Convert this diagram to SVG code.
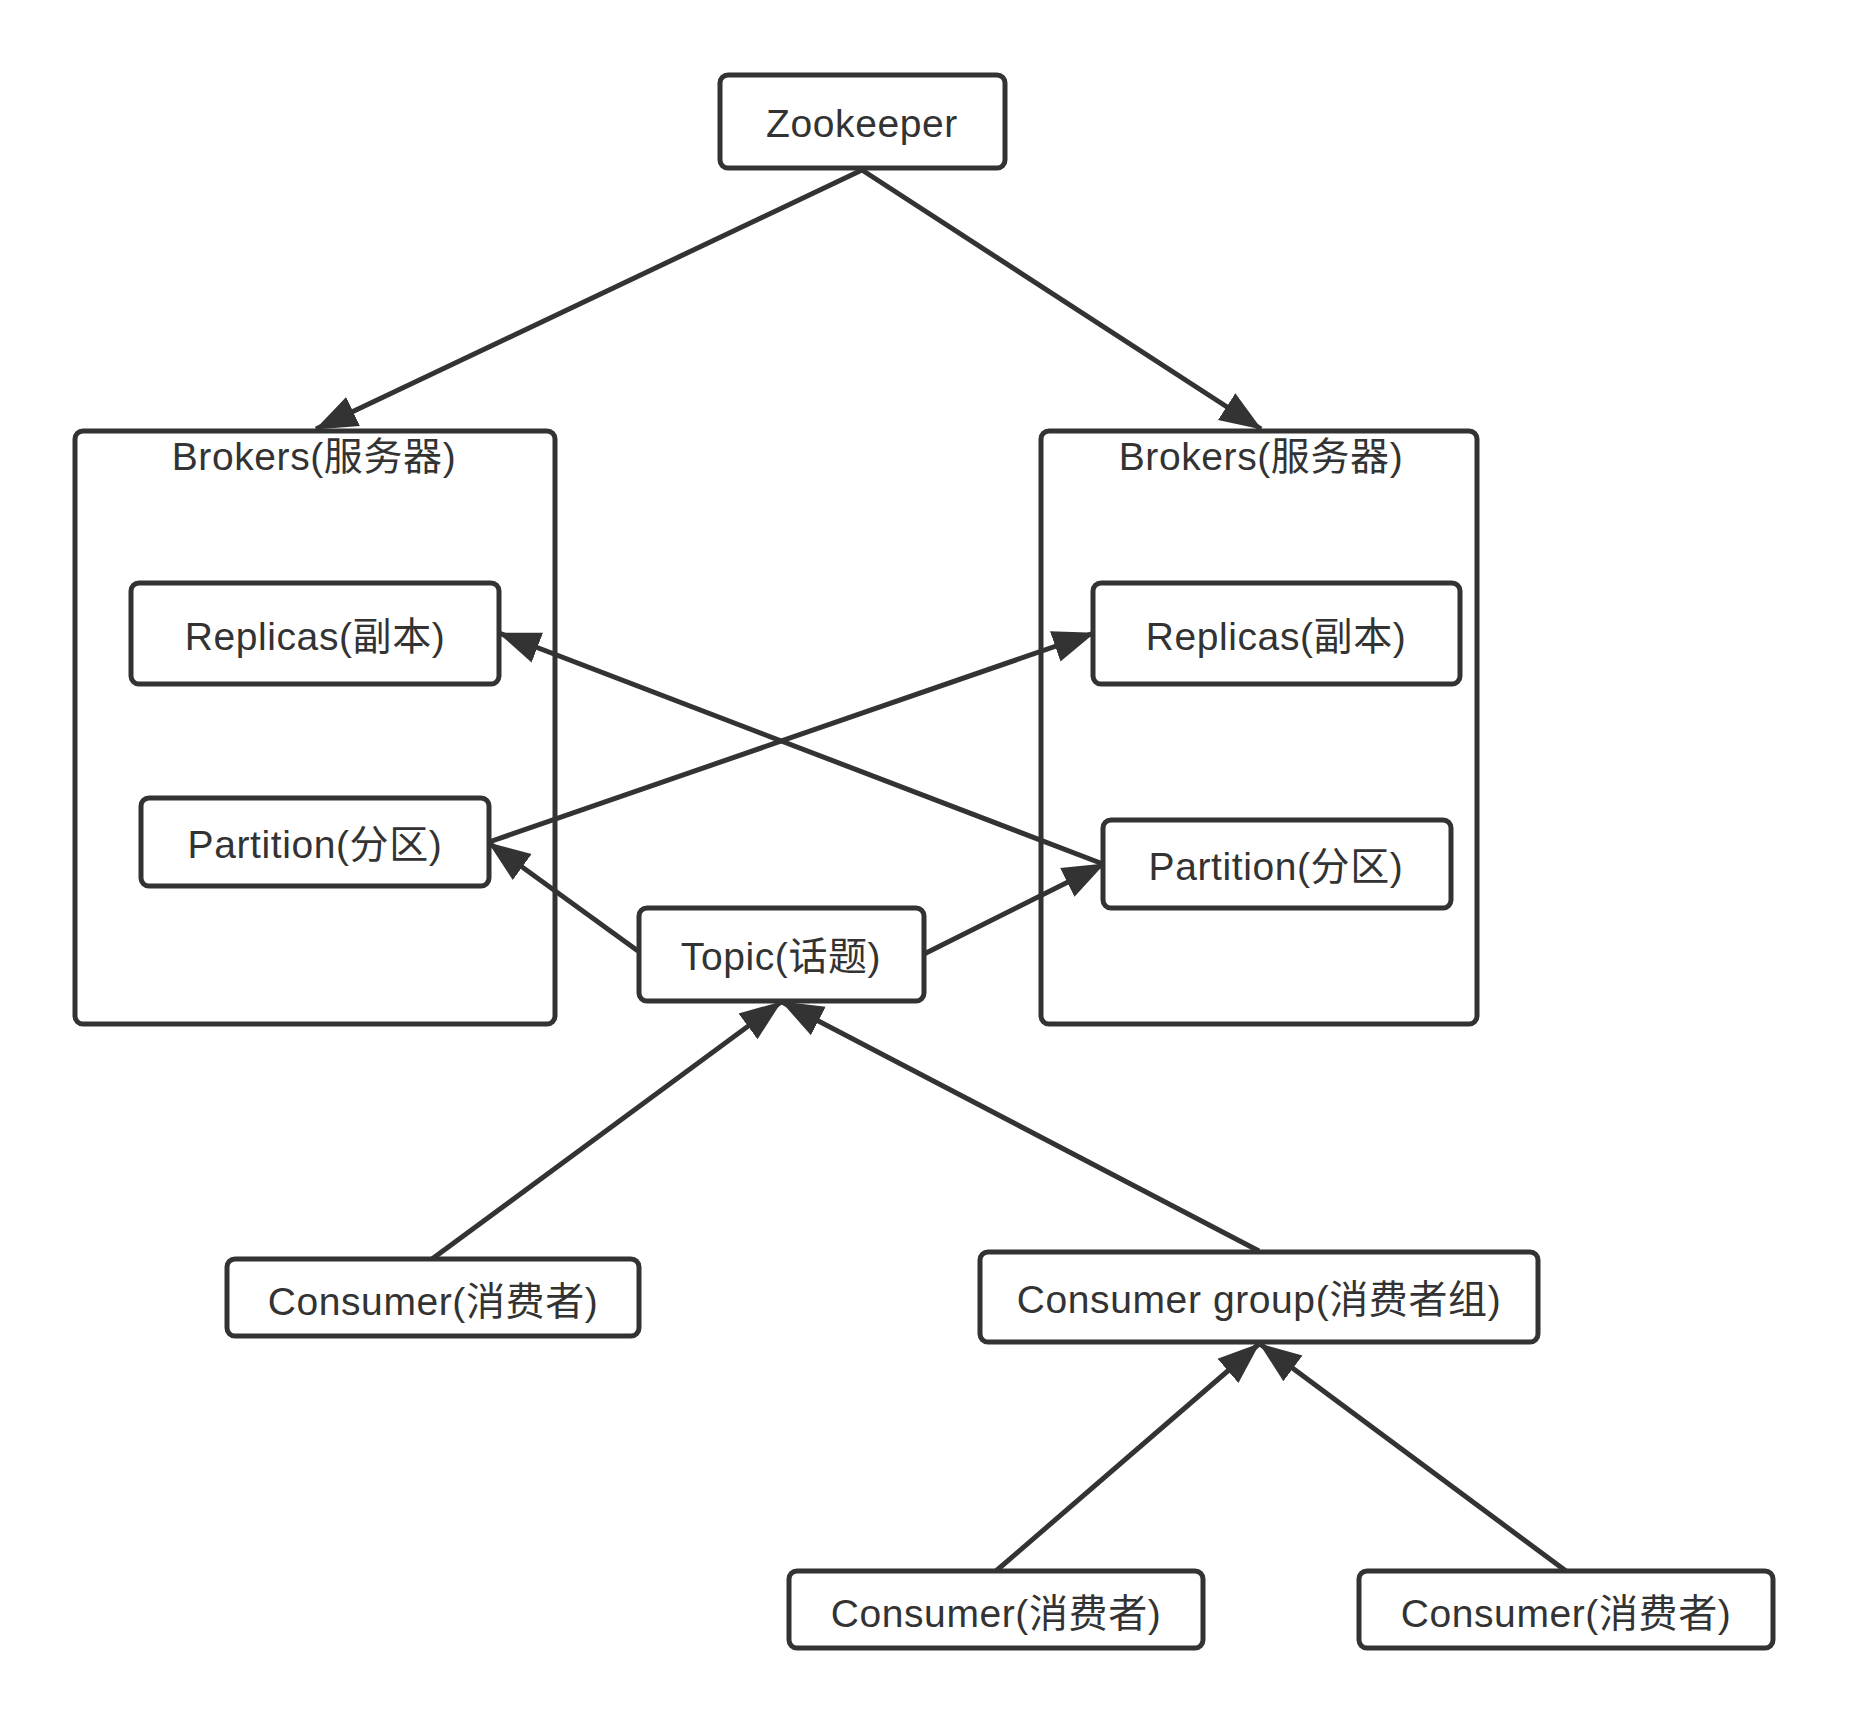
<svg xmlns="http://www.w3.org/2000/svg" width="1849" height="1724" viewBox="0 0 1849 1724">
<style>
.box{fill:#ffffff;stroke:#333333;stroke-width:5}
.lbl{font-family:"Liberation Sans","Noto Sans CJK SC",sans-serif;font-size:39px;letter-spacing:0.6px;fill:#333333;text-anchor:middle}
.edge{stroke:#333333;stroke-width:5;fill:none;marker-end:url(#arrow)}
</style>
<defs>
<marker id="arrow" markerUnits="userSpaceOnUse" markerWidth="42" markerHeight="34" viewBox="0 0 42 34" refX="41" refY="17" orient="auto">
<path d="M0,1 L42,17 L0,33 z" fill="#333333"/>
</marker>
</defs>
<rect width="1849" height="1724" fill="#ffffff"/>
<g id="brokers-left"><rect class="box" x="75" y="431" width="480" height="593" rx="8"/><text class="lbl" x="314" y="470">Brokers(服务器)</text></g>
<g id="brokers-right"><rect class="box" x="1041" y="431" width="436" height="593" rx="8"/><text class="lbl" x="1261" y="470">Brokers(服务器)</text></g>
<g id="connectors">
<line class="edge" x1="862" y1="170" x2="316" y2="429"/>
<line class="edge" x1="862" y1="170" x2="1261" y2="429"/>
<line class="edge" x1="489" y1="842" x2="1094" y2="633"/>
<line class="edge" x1="1103" y1="864" x2="499" y2="633"/>
<line class="edge" x1="638" y1="951" x2="489" y2="843"/>
<line class="edge" x1="924" y1="954" x2="1104" y2="864"/>
<line class="edge" x1="432" y1="1259" x2="781" y2="1002"/>
<line class="edge" x1="1259" y1="1251" x2="782" y2="1002"/>
<line class="edge" x1="996" y1="1571" x2="1259" y2="1344"/>
<line class="edge" x1="1566" y1="1571" x2="1260" y2="1344"/>
</g>
<g id="zookeeper"><rect class="box" x="720" y="75" width="285" height="93" rx="8"/><text class="lbl" x="862" y="137">Zookeeper</text></g>
<g id="replicas-left"><rect class="box" x="131" y="583" width="368" height="101" rx="8"/><text class="lbl" x="315" y="650">Replicas(副本)</text></g>
<g id="partition-left"><rect class="box" x="141" y="798" width="348" height="88" rx="8"/><text class="lbl" x="315" y="858">Partition(分区)</text></g>
<g id="replicas-right"><rect class="box" x="1093" y="583" width="367" height="101" rx="8"/><text class="lbl" x="1276" y="650">Replicas(副本)</text></g>
<g id="partition-right"><rect class="box" x="1103" y="820" width="348" height="88" rx="8"/><text class="lbl" x="1276" y="880">Partition(分区)</text></g>
<g id="topic"><rect class="box" x="639" y="908" width="285" height="93" rx="8"/><text class="lbl" x="781" y="970">Topic(话题)</text></g>
<g id="consumer-1"><rect class="box" x="227" y="1259" width="412" height="77" rx="8"/><text class="lbl" x="433" y="1315">Consumer(消费者)</text></g>
<g id="consumer-group"><rect class="box" x="980" y="1252" width="558" height="90" rx="8"/><text class="lbl" x="1259" y="1313">Consumer group(消费者组)</text></g>
<g id="consumer-2"><rect class="box" x="789" y="1571" width="414" height="77" rx="8"/><text class="lbl" x="996" y="1627">Consumer(消费者)</text></g>
<g id="consumer-3"><rect class="box" x="1359" y="1571" width="414" height="77" rx="8"/><text class="lbl" x="1566" y="1627">Consumer(消费者)</text></g>
</svg>
